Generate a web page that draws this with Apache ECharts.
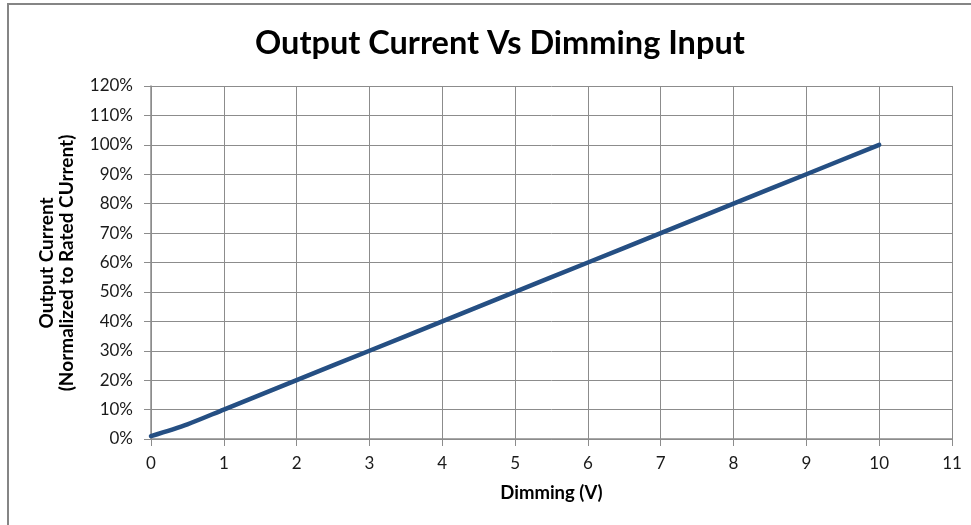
<!DOCTYPE html>
<html><head><meta charset="utf-8">
<script src="https://cdn.jsdelivr.net/npm/echarts@6/dist/echarts.min.js"></script>
<style>html,body{margin:0;padding:0;background:#fff}#c{width:971px;height:525px}</style>
</head><body><div id="c"></div>
<script>
const dimmingV = [0, 0.5, 1, 2, 3, 4, 5, 6, 7, 8, 9, 10];
const outputPct = [1, 5, 10, 20, 30, 40, 50, 60, 70, 80, 90, 100];
const xTicks = [0,1,2,3,4,5,6,7,8,9,10,11];
const yTicks = [0,10,20,30,40,50,60,70,80,90,100,110,120];

const chart = echarts.init(document.getElementById('c'));
const font = 'Lato, "Open Sans", sans-serif';
chart.setOption({
  animation: false,
  title: {
    text: 'Output Current Vs Dimming Input',
    left: 250, top: 22,
    textStyle: {fontFamily: font, fontSize: 32.5, fontWeight: 'bold', color: '#000'}
  },
  graphic: [{
    type: 'rect', shape: {x: 8, y: 4, width: 1100, height: 700},
    style: {fill: 'none', stroke: '#858585', lineWidth: 2}, silent: true, z: -1
  }, {
    type: 'text', x: 57, y: 263, rotation: Math.PI/2,
    style: {text: 'Output Current\n(Normalized to Rated CUrrent)', fill: '#000',
      fontFamily: font, fontSize: 19, fontWeight: 'bold', align: 'center', verticalAlign: 'middle', lineHeight: 20}
  }],
  grid: {left: 151, right: 19, top: 86, bottom: 86},
  xAxis: {
    type: 'value', min: xTicks[0], max: xTicks[xTicks.length-1], interval: 1,
    name: 'Dimming (V)', nameLocation: 'middle', nameGap: 45,
    nameTextStyle: {fontFamily: font, fontSize: 18.5, fontWeight: 'bold', color: '#000'},
    axisLine: {lineStyle: {color: '#8c8c8c', width: 1.5}},
    axisTick: {show: true, length: 7, lineStyle: {color: '#8c8c8c'}},
    axisLabel: {fontFamily: font, fontSize: 17, color: '#1a1a1a', margin: 16},
    splitLine: {show: true, lineStyle: {color: '#8c8c8c', width: 1}}
  },
  yAxis: {
    type: 'value', min: yTicks[0], max: yTicks[yTicks.length-1], interval: 10,
    axisLine: {show: true, lineStyle: {color: '#8c8c8c', width: 1.5}},
    axisTick: {show: true, length: 7, lineStyle: {color: '#8c8c8c'}},
    axisLabel: {fontFamily: font, fontSize: 17, color: '#1a1a1a', margin: 18, formatter: '{value}%'},
    splitLine: {show: true, lineStyle: {color: '#8c8c8c', width: 1}}
  },
  series: [{
    type: 'line', smooth: 0.3, symbol: 'none',
    data: dimmingV.map((v, i) => [v, outputPct[i]]),
    lineStyle: {color: '#254f83', width: 4.5, cap: 'round'}
  }]
});
</script></body></html>
